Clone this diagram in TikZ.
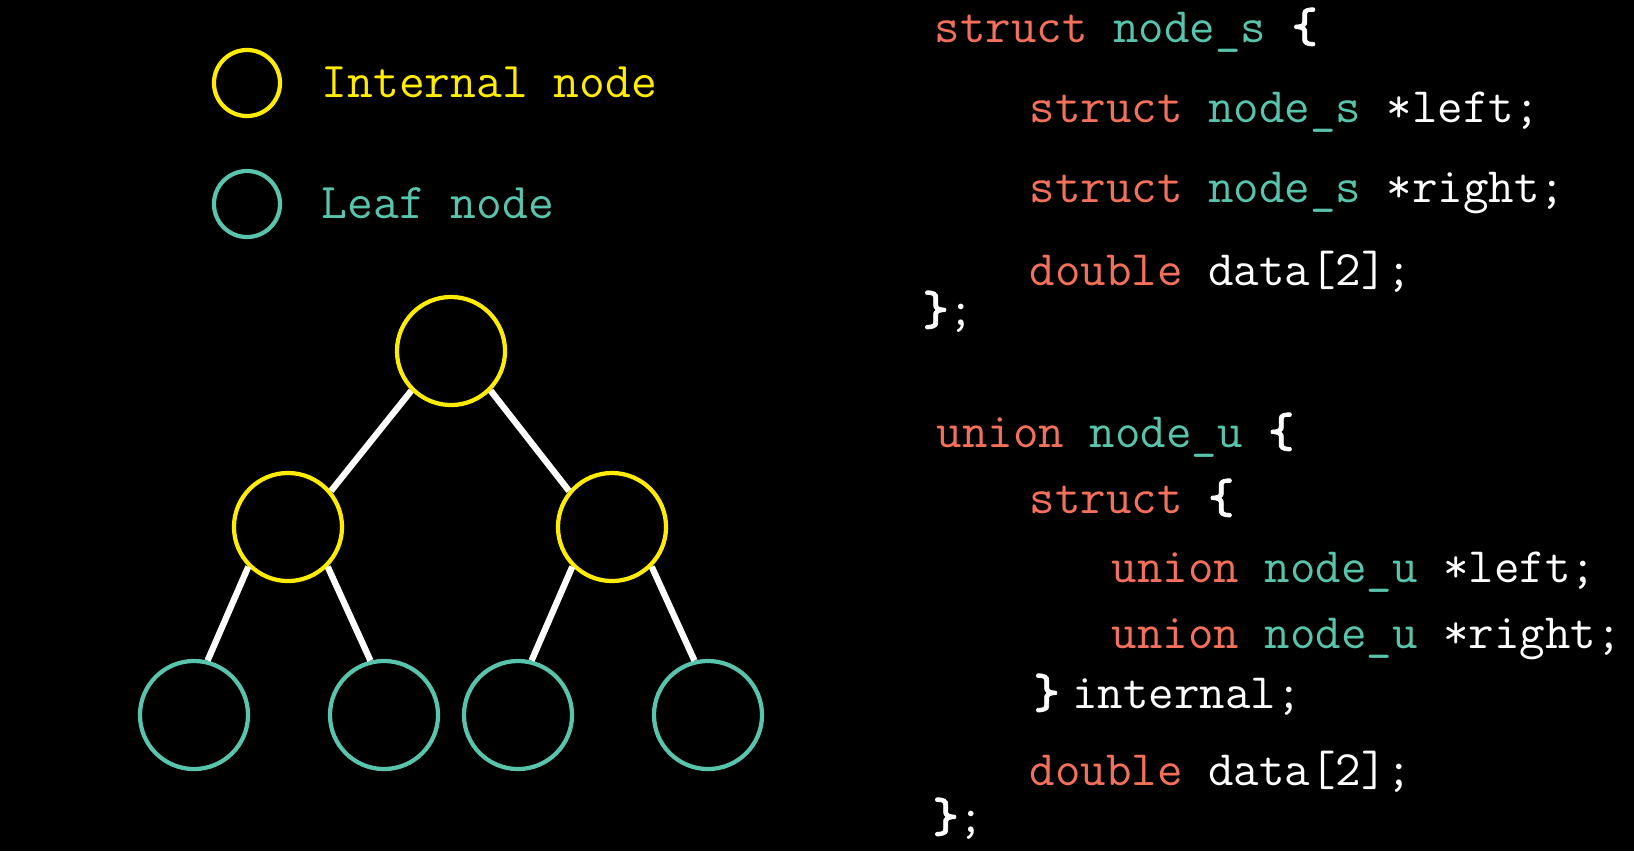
\documentclass[tikz,border=0pt]{standalone}
\usepackage{fontspec}
\usepackage{tikz}
\usetikzlibrary{positioning}
\newfontfamily\bracefont{lmmonolt10-bold.otf}[FakeBold=1.5]
\definecolor{kwcol}{RGB}{244,112,90}
\definecolor{typcol}{RGB}{88,196,172}
\definecolor{intcol}{RGB}{255,236,0}
\newcommand{\kwd}[1]{\textcolor{kwcol}{#1}}
\newcommand{\typ}[1]{\textcolor{typcol}{#1}}
\newcommand{\lbr}{{\bracefont\{}}
\newcommand{\rbr}{{\bracefont\}}}

\begin{document}
\begin{tikzpicture}[
			x=0.01cm, y=-0.01cm,
			internal/.style={circle, draw=intcol, line width=1.2pt, minimum size=1.08cm, inner sep=0pt},
			leaf/.style={circle, draw=typcol, line width=1.2pt, minimum size=1.08cm, inner sep=0pt},
			key/.style={circle, line width=1.2pt, minimum size=0.66cm, inner sep=0pt},
			keytext/.style={anchor=base west, inner sep=0pt, font=\ttfamily\fontsize{14.25}{16}\selectfont},
			edge/.style={white, line width=1.8pt},
			code/.style={anchor=base west, inner sep=0pt, text=white, font=\ttfamily\fontsize{14.08}{16}\selectfont},
			]
			
			% Background
			\fill[black] (0,0) rectangle (1634,851);
			
			% Legend
			\node (kint) [key, draw=intcol] at (247,83) {};
			\node (kleaf) [key, draw=typcol] at (247,204) {};
			\node (tint) [keytext, text=intcol] at (321,97) {Internal node};
			\node (tleaf) [keytext, text=typcol] at (321,218) {Leaf node};
			
			% Tree
			\node (root) [internal] at (451,351) {};
			\node (n1) [internal] at (288,527) {};
			\node (n2) [internal] at (612,527) {};
			\node (l1) [leaf] at (194,715) {};
			\node (l2) [leaf] at (384,715) {};
			\node (l3) [leaf] at (518,715) {};
			\node (l4) [leaf] at (708,715) {};
			
			% Edges
			\draw[edge] (root.225) -- (n1.40);
			\draw[edge] (root.315) -- (n2.140);
			\draw[edge] (n1.225) -- (l1.76);
			\draw[edge] (n1.315) -- (l2.104);
			\draw[edge] (n2.225) -- (l3.76);
			\draw[edge] (n2.315) -- (l4.104);
			
			% Code: struct
			\node (s1) [code] at (934,42) {\kwd{struct} \typ{node\_s} \lbr};
			\node (s2) [code] at (1029,122) {\kwd{struct} \typ{node\_s} *left;};
			\node (s3) [code] at (1029,202) {\kwd{struct} \typ{node\_s} *right;};
			\node (s4) [code] at (1029,285) {\kwd{double} data[2];};
			\node (s5) [code] at (922,325) {\rbr;};
			
			% Code: union
			\node (u1) [code] at (936,447) {\kwd{union} \typ{node\_u} \lbr};
			\node (u2) [code] at (1029,513) {\kwd{struct} \lbr};
			\node (u3) [code] at (1111,582) {\kwd{union} \typ{node\_u} *left;};
			\node (u4) [code] at (1111,648) {\kwd{union} \typ{node\_u} *right;};
			\node (u5) [code] at (1033,708) {\rbr{} \hspace{-0.13cm}internal;};
			\node (u6) [code] at (1029,785) {\kwd{double} data[2];};
			\node (u7) [code] at (932,832) {\rbr;};
		\end{tikzpicture}
\end{document}
